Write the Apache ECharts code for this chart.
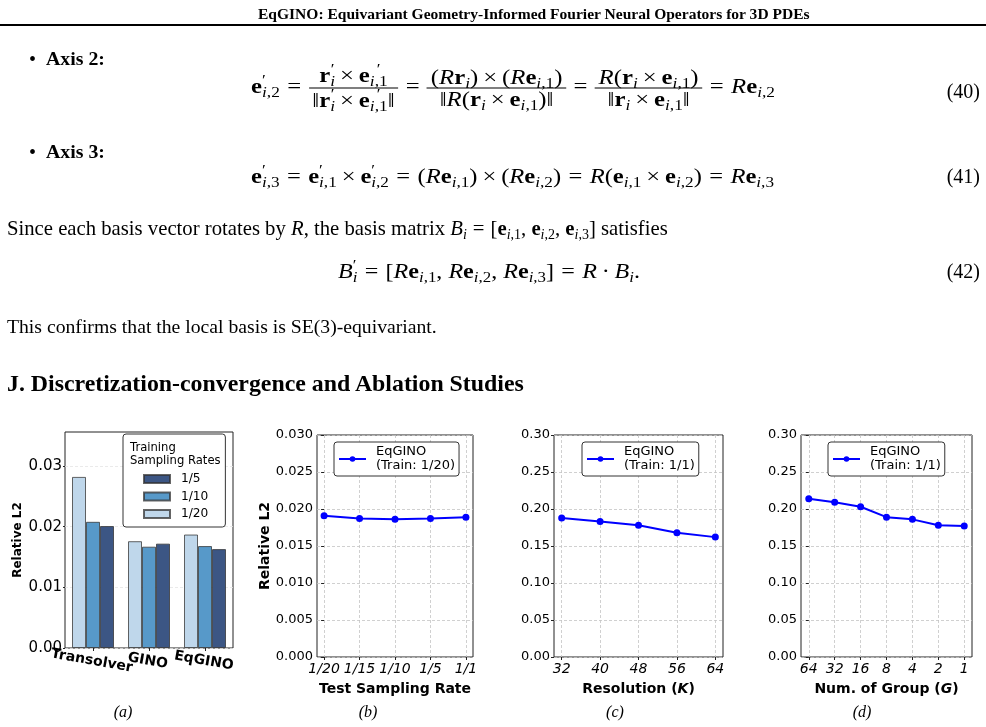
<!DOCTYPE html>
<html>
<head>
<meta charset="utf-8">
<script src="https://cdn.jsdelivr.net/npm/echarts@6/dist/echarts.min.js"></script>
<style>
  html, body { margin: 0; padding: 0; background: #fff; }
  body { width: 986px; height: 727px; overflow: hidden; position: relative; color: #000;
         font-family: 'Liberation Serif', 'Times New Roman', serif; }
  #chart { position: absolute; left: 0; top: 0; width: 986px; height: 727px; }
  .t { position: absolute; white-space: nowrap; font-size: 20px; line-height: 1.1; transform: translateY(-50%); transform-origin: 0 50%; }
  .b { font-weight: bold; }
  .bf { font-weight: bold; font-style: normal; }
  .op { margin: 0 6px; }
  .x { margin: 0 4px; }
  .frac { display: inline-block; vertical-align: middle; text-align: center; }
  .frac > span { display: block; padding: 0 3px; line-height: 21px; }
  .frac > .n { border-bottom: 1px solid #000; }
  sub { font-size: 14px; vertical-align: -4px; line-height: 0; }
  .ps { display: inline-flex; flex-direction: column; font-size: 14px; line-height: 12px; vertical-align: 8px; }
  .cap { position: absolute; font-style: italic; font-size: 16px; line-height: 16px; transform: translateX(-50%); }
</style>
</head>
<body>
<div id="chart"></div>

<div class="t b" data-w="552" style="left:258px;top:14px;font-size:15.5px;">EqGINO: Equivariant Geometry-Informed Fourier Neural Operators for 3D PDEs</div>
<div style="position:absolute;left:0;top:24px;width:986px;height:2px;background:#000;"></div>

<div class="t" style="left:29px;top:59px;">•</div>
<div class="t b" data-w="59" style="left:46px;top:59px;">Axis 2:</div>

<div class="t" data-sx="524" style="left:251px;top:88px;">
  <span class="bf">e</span><span class="ps"><span>′</span><span><i>i</i>,2</span></span><span class="op">=</span><span class="frac"><span class="n"><span class="bf">r</span><span class="ps"><span>′</span><span><i>i</i></span></span><span class="x">×</span><span class="bf">e</span><span class="ps"><span>′</span><span><i>i</i>,1</span></span></span><span>‖<span class="bf">r</span><span class="ps"><span>′</span><span><i>i</i></span></span><span class="x">×</span><span class="bf">e</span><span class="ps"><span>′</span><span><i>i</i>,1</span></span>‖</span></span><span class="op">=</span><span class="frac"><span class="n">(<i>R</i><span class="bf">r</span><sub><i>i</i></sub>)<span class="x">×</span>(<i>R</i><span class="bf">e</span><sub><i>i</i>,1</sub>)</span><span>‖<i>R</i>(<span class="bf">r</span><sub><i>i</i></sub><span class="x">×</span><span class="bf">e</span><sub><i>i</i>,1</sub>)‖</span></span><span class="op">=</span><span class="frac"><span class="n"><i>R</i>(<span class="bf">r</span><sub><i>i</i></sub><span class="x">×</span><span class="bf">e</span><sub><i>i</i>,1</sub>)</span><span>‖<span class="bf">r</span><sub><i>i</i></sub><span class="x">×</span><span class="bf">e</span><sub><i>i</i>,1</sub>‖</span></span><span class="op">=</span><i>R</i><span class="bf">e</span><sub><i>i</i>,2</sub>
</div>
<div class="t" style="right:6px;top:91px;">(40)</div>

<div class="t" style="left:29px;top:152px;">•</div>
<div class="t b" data-w="59" style="left:46px;top:152px;">Axis 3:</div>

<div class="t" data-sx="523" style="left:251px;top:177px;">
  <span class="bf">e</span><span class="ps"><span>′</span><span><i>i</i>,3</span></span><span class="op">=</span><span class="bf">e</span><span class="ps"><span>′</span><span><i>i</i>,1</span></span><span class="x">×</span><span class="bf">e</span><span class="ps"><span>′</span><span><i>i</i>,2</span></span><span class="op">=</span>(<i>R</i><span class="bf">e</span><sub><i>i</i>,1</sub>)<span class="x">×</span>(<i>R</i><span class="bf">e</span><sub><i>i</i>,2</sub>)<span class="op">=</span><i>R</i>(<span class="bf">e</span><sub><i>i</i>,1</sub><span class="x">×</span><span class="bf">e</span><sub><i>i</i>,2</sub>)<span class="op">=</span><i>R</i><span class="bf">e</span><sub><i>i</i>,3</sub>
</div>
<div class="t" style="right:6px;top:176px;">(41)</div>

<div class="t" data-w="663" style="left:7px;top:228px;">Since each basis vector rotates by <i>R</i>, the basis matrix <i>B</i><sub><i>i</i></sub><span class="op">=</span>[<span class="bf">e</span><sub><i>i</i>,1</sub>, <span class="bf">e</span><sub><i>i</i>,2</sub>, <span class="bf">e</span><sub><i>i</i>,3</sub>] satisfies</div>

<div class="t" data-sx="302" style="left:338px;top:272px;"><i>B</i><span class="ps"><span>′</span><span><i>i</i></span></span><span class="op">=</span>[<i>R</i><span class="bf">e</span><sub><i>i</i>,1</sub>, <i>R</i><span class="bf">e</span><sub><i>i</i>,2</sub>, <i>R</i><span class="bf">e</span><sub><i>i</i>,3</sub>]<span class="op">=</span><i>R</i><span class="x">·</span><i>B</i><sub><i>i</i></sub>.</div>
<div class="t" style="right:6px;top:271px;">(42)</div>

<div class="t" data-w="430" style="left:7px;top:327px;">This confirms that the local basis is SE(3)-equivariant.</div>

<div class="t b" data-w="517" style="left:7px;top:383px;font-size:24px;">J. Discretization-convergence and Ablation Studies</div>

<div class="cap" style="left:123px;top:704px;">(a)</div>
<div class="cap" style="left:368px;top:704px;">(b)</div>
<div class="cap" style="left:615px;top:704px;">(c)</div>
<div class="cap" style="left:862px;top:704px;">(d)</div>

<script>
// ---------------- data ----------------
const modelNames = ['Transolver', 'GINO', 'EqGINO'];
const trainRates = ['1/20', '1/10', '1/5'];
const l2Rate20 = [0.0282, 0.0176, 0.0187];
const l2Rate10 = [0.0208, 0.0167, 0.0168];
const l2Rate5  = [0.0201, 0.0172, 0.0163];
const barYTicks = [0, 0.01, 0.02, 0.03];

const testRates = ['1/20', '1/15', '1/10', '1/5', '1/1'];
const testRateL2 = [0.0191, 0.0187, 0.0186, 0.0187, 0.0189];

const resolutions = [32, 40, 48, 56, 64];
const resolutionL2 = [0.188, 0.183, 0.178, 0.168, 0.162];

const groupCounts = ['64', '32', '16', '8', '4', '2', '1'];
const groupL2 = [0.214, 0.209, 0.203, 0.189, 0.186, 0.178, 0.177];

// ---------------- fit page text to reference widths ----------------
document.querySelectorAll('[data-w]').forEach(el => {
  const target = +el.dataset.w;
  const fs = parseFloat(getComputedStyle(el).fontSize);
  const w = el.getBoundingClientRect().width;
  if (w > 0) el.style.fontSize = (fs * target / w).toFixed(2) + 'px';
});
document.querySelectorAll('[data-sx]').forEach(el => {
  const target = +el.dataset.sx;
  const w = el.getBoundingClientRect().width;
  if (w > 0) el.style.transform = 'translateY(-50%) scaleX(' + (target / w).toFixed(4) + ')';
});

// ---------------- styles ----------------
const SANS = 'DejaVu Sans';
const barColors = { '1/20': '#bfd7eb', '1/10': '#5799c9', '1/5': '#3c5684' };
const spine = '#222';

const chart = echarts.init(document.getElementById('chart'), null, { renderer: 'canvas' });

const grids = [
  { left: 65, top: 432, width: 168, height: 216 },
  { left: 317, top: 435, width: 156, height: 222 },
  { left: 554, top: 435, width: 169, height: 222 },
  { left: 801, top: 435, width: 171, height: 222 }
].map(g => Object.assign({ show: true, borderColor: spine, borderWidth: 1, backgroundColor: 'transparent', containLabel: false }, g));

const gridLine = { show: true, lineStyle: { color: '#c4c4c4', type: [3, 2], width: 0.8 } };

function lineXAxis(gi, min, max, ticks, fmt, nameRich) {
  return {
    gridIndex: gi, type: 'value', min: min, max: max,
    axisLine: { show: false },
    axisTick: { show: true, length: 3, lineStyle: { color: spine }, customValues: ticks },
    axisLabel: { customValues: ticks, formatter: fmt, color: '#000', fontFamily: SANS, fontStyle: 'italic', fontSize: 14, margin: 5 },
    splitLine: gridLine,
    name: nameRich, nameLocation: 'middle', nameGap: 25,
    nameTextStyle: {
      color: '#000', fontFamily: SANS, fontSize: 14, fontWeight: 'bold',
      rich: {
        b: { fontFamily: SANS, fontSize: 14, fontWeight: 'bold', color: '#000' },
        i: { fontFamily: SANS, fontSize: 14, fontStyle: 'italic', color: '#000' }
      }
    }
  };
}
function lineYAxis(gi, max, interval, digits, name) {
  return {
    gridIndex: gi, type: 'value', min: 0, max: max, interval: interval,
    axisLine: { show: false },
    axisTick: { show: true, length: 3, lineStyle: { color: spine } },
    axisLabel: { formatter: v => v.toFixed(digits), color: '#000', fontFamily: SANS, fontSize: 13, margin: 4 },
    splitLine: gridLine,
    name: name || '', nameLocation: 'middle', nameGap: 44,
    nameTextStyle: { color: '#000', fontFamily: SANS, fontSize: 14, fontWeight: 'bold' }
  };
}

const xAxes = [
  {
    gridIndex: 0, type: 'category', data: modelNames,
    axisLine: { show: false },
    axisTick: { show: true, alignWithLabel: true, length: 3, lineStyle: { color: spine } },
    axisLabel: { interval: 0, hideOverlap: false, color: '#000', fontFamily: SANS, fontSize: 14, fontWeight: 'bold', rotate: -10, align: 'center', verticalAlign: 'top', margin: 6 },
    splitLine: { show: false }
  },
  lineXAxis(1, -0.2, 4.2, testRates.map((_, i) => i), v => testRates[Math.round(v)], 'Test Sampling Rate'),
  lineXAxis(2, 30.4, 65.6, resolutions, v => String(v), '{b|Resolution (}{i|K}{b|)}'),
  lineXAxis(3, -0.3, 6.3, groupCounts.map((_, i) => i), v => groupCounts[Math.round(v)], '{b|Num. of Group (}{i|G}{b|)}')
];

const yAxes = [
  {
    gridIndex: 0, type: 'value', min: 0, max: 0.0356,
    axisLine: { show: false },
    axisTick: { show: true, length: 2, lineStyle: { color: spine }, customValues: barYTicks },
    axisLabel: { customValues: barYTicks, formatter: v => v.toFixed(2), color: '#000', fontFamily: SANS, fontSize: 15, margin: 3 },
    splitLine: { show: true, lineStyle: { color: '#e4e4e4', type: [3, 2], width: 0.8 } },
    name: 'Relative L2', nameLocation: 'middle', nameGap: 41,
    nameTextStyle: { color: '#000', fontFamily: SANS, fontSize: 12, fontWeight: 'bold' }
  },
  lineYAxis(1, 0.03, 0.005, 3, 'Relative L2'),
  lineYAxis(2, 0.30, 0.05, 2, ''),
  lineYAxis(3, 0.30, 0.05, 2, '')
];

function barSeries(name, values) {
  return {
    type: 'bar', name: name, xAxisIndex: 0, yAxisIndex: 0,
    data: values, barWidth: 14, barGap: '0%',
    itemStyle: { color: barColors[name], borderColor: 'rgba(50,50,50,0.75)', borderWidth: 1 },
    emphasis: { disabled: true }, animation: false
  };
}
function lineSeries(gi, name, pts) {
  return {
    type: 'line', name: name, xAxisIndex: gi, yAxisIndex: gi,
    data: pts, symbol: 'circle', symbolSize: 7, showSymbol: true,
    lineStyle: { color: '#0000ff', width: 2 }, itemStyle: { color: '#0000ff' },
    emphasis: { disabled: true }, animation: false
  };
}

const legendBase = {
  orient: 'vertical', backgroundColor: '#fff', borderColor: '#333', borderWidth: 1, borderRadius: 3,
  textStyle: { fontFamily: SANS, fontSize: 13, color: '#000', lineHeight: 14, padding: [0, 0, 0, 5] },
  itemWidth: 27, itemHeight: 7, selectedMode: false
};

const option = {
  animation: false,
  backgroundColor: 'transparent',
  grid: grids,
  xAxis: xAxes,
  yAxis: yAxes,
  title: [{
    text: 'Training\nSampling Rates', left: 125, top: 437,
    textStyle: { fontFamily: SANS, fontSize: 11.6, fontWeight: 'normal', color: '#000', lineHeight: 12.5 }
  }],
  legend: [
    Object.assign({}, legendBase, {
      data: ['1/5', '1/10', '1/20'], left: 123, top: 434, icon: 'rect',
      itemWidth: 26, itemHeight: 8, itemGap: 3.5,
      padding: [38, 17, 6, 20],
      textStyle: { fontFamily: SANS, fontSize: 12.2, color: '#000', lineHeight: 14, padding: [0, 0, 0, 6] }
    }),
    Object.assign({}, legendBase, { data: ['EqGINO\n(Train: 1/20)'], left: 334, top: 442, padding: [3, 4, 3, 4] }),
    Object.assign({}, legendBase, { data: ['EqGINO\n(Train: 1/1)'], left: 582, top: 442, padding: [3, 4, 3, 4] }),
    Object.assign({}, legendBase, { data: ['EqGINO\n(Train: 1/1)'], left: 828, top: 442, padding: [3, 4, 3, 4] })
  ],
  series: [
    barSeries('1/20', l2Rate20),
    barSeries('1/10', l2Rate10),
    barSeries('1/5', l2Rate5),
    lineSeries(1, 'EqGINO\n(Train: 1/20)', testRates.map((_, i) => [i, testRateL2[i]])),
    lineSeries(2, 'EqGINO\n(Train: 1/1)', resolutions.map((r, i) => [r, resolutionL2[i]])),
    lineSeries(3, 'EqGINO\n(Train: 1/1)', groupCounts.map((_, i) => [i, groupL2[i]]))
  ]
};
chart.setOption(option);
</script>
</body>
</html>
